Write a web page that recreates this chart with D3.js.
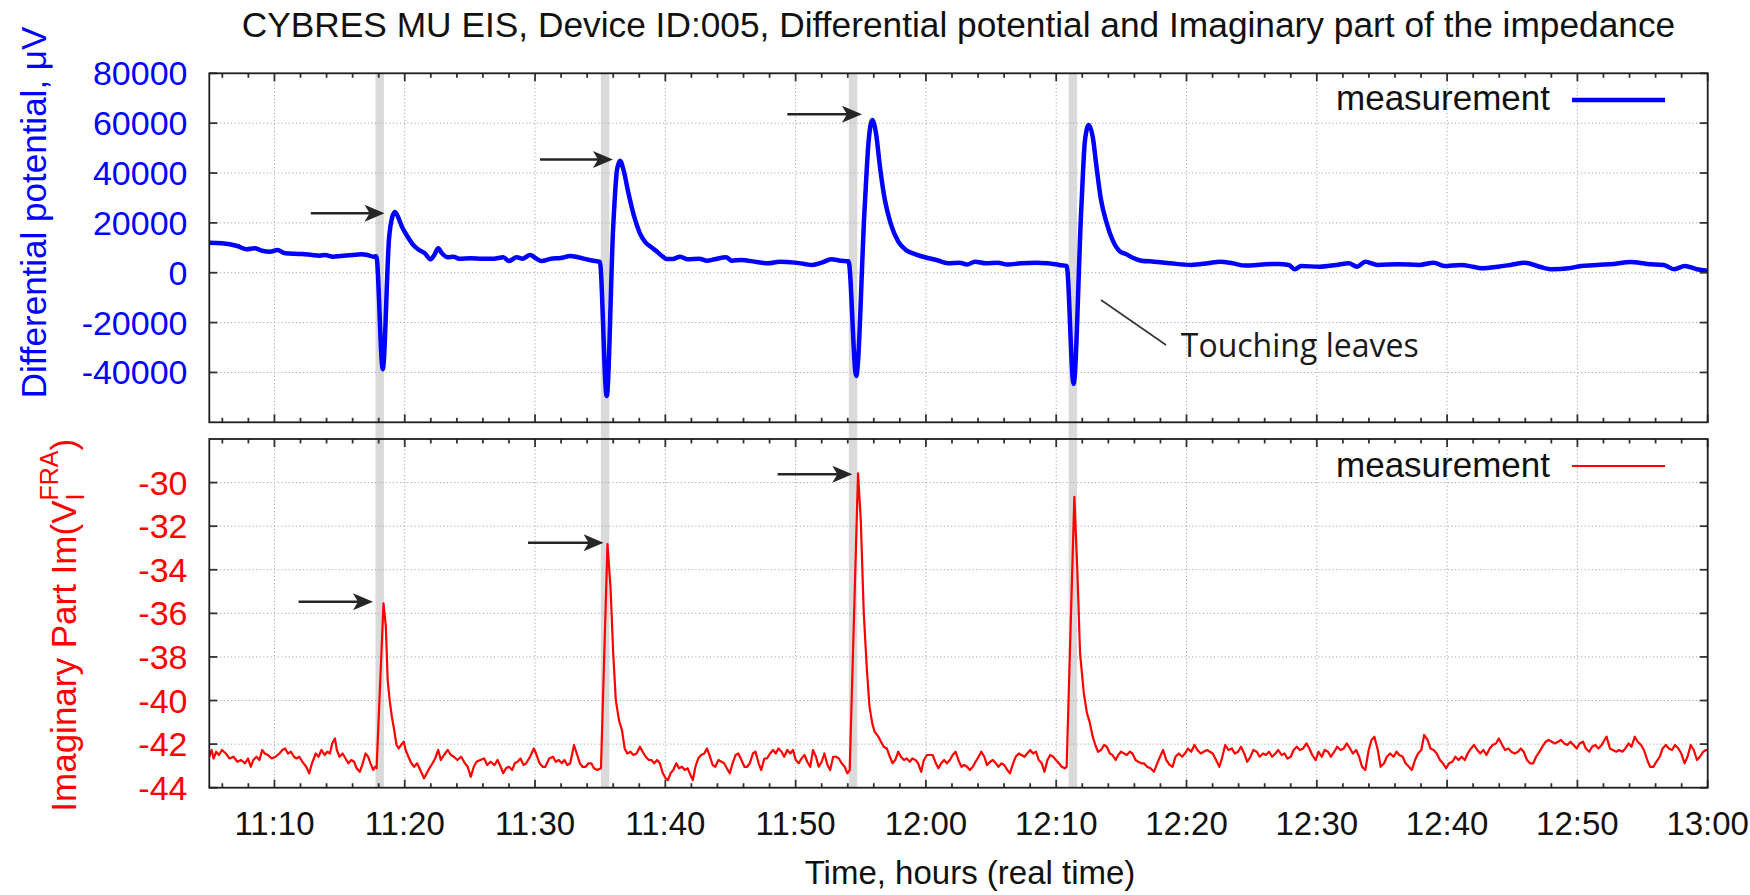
<!DOCTYPE html>
<html><head><meta charset="utf-8">
<script src="https://cdn.jsdelivr.net/npm/d3@7"></script>
<style>body{margin:0;background:#fff}svg{display:block}</style>
</head><body><svg id="chart" width="1750" height="895"></svg>
<script>
// ---------------- DATA ----------------
// time axis: minutes after 11:05
const axisStart = "11:05", axisEnd = "13:00";
const xTickLabels = ["11:10","11:20","11:30","11:40","11:50","12:00","12:10","12:20","12:30","12:40","12:50","13:00"];
const potentialTicks = [80000,60000,40000,20000,0,-20000,-40000];
const potentialDomain = [-60000, 80000];
const imagTicks = [-30,-32,-34,-36,-38,-40,-42,-44];
const imagDomain = [-44, -28];

// differential potential, µV : [minutes after 11:05, value]
const potentialSeries = [[0,12000],[0.97,11810],[2.15,10730],[2.88,9400],[3.47,9800],[4.06,8840],[4.65,8450],[5.23,9120],[5.82,7800],[7.14,7520],[7.88,7120],[8.46,6840],[8.9,7120],[9.49,6440],[10.08,6730],[10.96,7120],[11.69,7400],[12.13,7120],[12.58,6440],[12.82,6600],[13.31,-38730],[13.8,14000],[14.0,21500],[14.25,24370],[14.48,22480],[14.78,18470],[15.22,14460],[15.66,11130],[16.1,9120],[16.54,7800],[16.98,5400],[17.27,7120],[17.57,9800],[17.86,7800],[18.3,6200],[18.74,6440],[19.18,5640],[20.07,5800],[20.95,5640],[21.83,5640],[22.56,6200],[23,4700],[23.59,6200],[24.03,5640],[24.62,7120],[25.06,5800],[25.5,4700],[26.23,5640],[26.97,5900],[27.7,6730],[28.29,6200],[29.17,5120],[29.76,4590],[29.97,4440],[30.5,-49430],[31,18470],[31.29,41220],[31.52,44950],[31.79,41220],[32.17,31870],[32.61,22480],[33.05,15820],[33.49,12050],[33.93,10210],[34.37,8450],[34.81,6440],[35.11,5520],[35.55,5520],[36.14,6440],[36.72,5400],[37.6,5650],[38.19,4830],[38.78,5400],[39.66,6200],[40.1,4830],[40.84,5115],[42.01,4300],[42.89,3790],[43.77,4440],[44.95,4050],[45.68,3500],[46.27,3130],[47,4050],[47.74,5400],[48.47,4830],[49.06,4590],[49.65,-41420],[50.29,25170],[50.59,51920],[50.88,61270],[51.17,55930],[51.47,42540],[51.85,29180],[52.29,19830],[52.88,12450],[53.46,9120],[54.2,7400],[54.93,6200],[55.81,5115],[56.69,3790],[57.58,4050],[58.16,3260],[58.75,4440],[59.63,3790],[60.51,4050],[61.25,3260],[62.28,3790],[63.45,4050],[64.33,3790],[65.21,3130],[65.8,2700],[66.33,-44620],[66.92,25170],[67.21,53250],[67.5,59260],[67.8,54580],[68.09,42540],[68.44,29180],[68.88,19830],[69.32,13140],[69.91,8450],[70.35,7520],[70.79,6200],[71.53,4830],[72.5,4440],[73.77,3790],[75.36,3130],[76.63,3790],[77.59,4440],[78.54,3790],[79.5,2850],[81.09,3400],[82.04,3500],[82.84,3130],[83.32,1400],[83.79,2700],[85.22,2400],[86.5,3130],[87.45,3790],[88.09,2400],[88.72,4440],[89.68,3130],[91.27,3400],[92.86,3130],[93.98,4050],[94.77,2700],[96.04,3130],[97,2400],[97.63,1800],[98.91,2400],[99.86,3130],[100.97,4050],[102.09,2400],[103.04,1400],[104.32,1800],[105.27,2700],[106.54,3130],[107.82,3500],[109.09,4300],[110.36,3500],[111.63,3130],[112.43,1400],[113.23,2700],[114.18,1400],[115,820]];

// imaginary part : [minutes after 11:05, value]
const imagSeries = [[0,-42.58],[0.18,-42.27],[0.33,-42.66],[0.53,-42.35],[0.74,-42.5],[0.97,-42.27],[1.27,-42.43],[1.56,-42.66],[1.86,-42.58],[2.15,-42.81],[2.44,-42.73],[2.74,-42.88],[2.97,-42.66],[3.18,-43.04],[3.38,-42.73],[3.62,-42.58],[3.85,-42.73],[4.06,-42.27],[4.26,-42.43],[4.5,-42.5],[4.79,-42.66],[5.09,-42.58],[5.38,-42.43],[5.61,-42.27],[5.82,-42.2],[6.03,-42.43],[6.26,-42.35],[6.5,-42.58],[6.7,-42.66],[6.91,-42.58],[7.14,-42.81],[7.44,-43.04],[7.67,-43.34],[7.88,-42.88],[8.17,-42.43],[8.38,-42.58],[8.61,-42.27],[8.85,-42.5],[9.05,-42.35],[9.26,-42.43],[9.43,-41.97],[9.64,-41.74],[9.79,-42.27],[9.99,-42.58],[10.23,-42.43],[10.46,-42.66],[10.67,-42.88],[10.9,-42.73],[11.11,-42.81],[11.31,-43.11],[11.55,-43.27],[11.78,-42.88],[11.99,-42.43],[12.19,-42.58],[12.37,-42.88],[12.58,-43.19],[12.72,-43.04],[12.84,-43.11],[13.37,-35.54],[13.55,-36.61],[13.69,-39.06],[13.84,-39.98],[14.01,-40.74],[14.19,-41.35],[14.37,-42.04],[14.54,-42.2],[14.72,-42.04],[14.93,-41.89],[15.07,-42.27],[15.28,-42.58],[15.51,-42.88],[15.72,-43.04],[15.95,-42.88],[16.19,-43.19],[16.48,-43.57],[16.69,-43.34],[16.89,-43.11],[17.13,-42.88],[17.33,-42.66],[17.57,-42.27],[17.77,-42.73],[18.01,-42.5],[18.3,-42.27],[18.54,-42.5],[18.77,-42.58],[19.04,-42.73],[19.33,-42.58],[19.62,-42.88],[19.83,-43.04],[20.07,-43.5],[20.3,-43.04],[20.51,-42.81],[20.8,-42.73],[21.09,-42.66],[21.33,-42.96],[21.59,-42.81],[21.89,-42.96],[22.12,-42.73],[22.36,-43.04],[22.56,-43.34],[22.77,-43.11],[23,-43.04],[23.24,-43.19],[23.44,-42.88],[23.65,-42.81],[23.88,-42.66],[24.12,-42.96],[24.32,-42.88],[24.62,-42.58],[24.91,-42.2],[25.12,-42.5],[25.35,-42.88],[25.59,-43.04],[25.79,-43.04],[26.09,-42.66],[26.38,-42.58],[26.59,-42.81],[26.82,-42.73],[27.06,-42.88],[27.26,-42.73],[27.47,-42.96],[27.7,-42.88],[27.99,-42.04],[28.2,-42.43],[28.44,-42.88],[28.64,-43.04],[28.88,-43.04],[29.11,-42.88],[29.32,-42.88],[29.52,-43.11],[29.76,-43.19],[30.06,-43.11],[30.56,-32.82],[30.79,-34.78],[31,-37.84],[31.2,-39.98],[31.44,-40.9],[31.67,-41.35],[31.88,-42.2],[32.08,-42.43],[32.32,-42.35],[32.55,-42.5],[32.79,-42.43],[33.05,-42.12],[33.26,-42.35],[33.49,-42.58],[33.73,-42.73],[33.93,-42.73],[34.14,-42.88],[34.37,-42.73],[34.58,-42.88],[34.81,-43.34],[35.02,-43.57],[35.2,-43.65],[35.4,-43.34],[35.61,-43.19],[35.84,-42.88],[36.05,-43.11],[36.28,-43.04],[36.49,-43.19],[36.72,-43.11],[36.93,-43.42],[37.11,-43.65],[37.31,-43.04],[37.52,-42.66],[37.75,-42.5],[37.99,-42.43],[38.19,-42.2],[38.43,-42.58],[38.63,-42.96],[38.84,-43.04],[39.07,-42.73],[39.31,-42.81],[39.51,-42.88],[39.72,-43.11],[39.95,-43.34],[40.16,-42.88],[40.39,-42.5],[40.6,-42.43],[40.84,-42.73],[41.07,-43.04],[41.28,-43.04],[41.48,-42.88],[41.72,-42.43],[41.92,-42.35],[42.16,-42.88],[42.36,-43.19],[42.6,-42.66],[42.8,-42.66],[43.04,-42.43],[43.27,-42.27],[43.48,-42.43],[43.68,-42.2],[43.92,-42.35],[44.12,-42.58],[44.36,-42.27],[44.59,-42.43],[44.8,-42.27],[45.01,-42.73],[45.24,-42.88],[45.45,-42.66],[45.68,-42.5],[45.89,-42.81],[46.12,-43.04],[46.33,-42.27],[46.56,-42.58],[46.77,-43.04],[47,-42.81],[47.21,-42.43],[47.44,-42.96],[47.65,-43.19],[47.88,-42.58],[48.09,-42.58],[48.32,-42.66],[48.53,-42.88],[48.76,-43.04],[48.97,-43.34],[49.15,-43.19],[49.79,-29.58],[50,-31.72],[50.23,-36],[50.47,-38.6],[50.67,-40.28],[50.88,-41.05],[51.06,-41.43],[51.35,-41.66],[51.55,-41.89],[51.76,-42.12],[52,-42.2],[52.23,-42.58],[52.44,-42.88],[52.64,-42.73],[52.88,-42.35],[53.08,-42.58],[53.32,-42.73],[53.52,-42.66],[53.76,-42.81],[53.96,-42.66],[54.2,-42.73],[54.4,-42.88],[54.64,-43.27],[54.84,-42.73],[55.08,-42.5],[55.28,-42.5],[55.52,-42.5],[55.76,-42.88],[55.96,-43.11],[56.17,-42.88],[56.4,-42.73],[56.61,-42.88],[56.84,-42.73],[57.05,-42.5],[57.28,-42.35],[57.49,-42.73],[57.72,-43.04],[57.93,-42.96],[58.16,-43.04],[58.37,-43.19],[58.6,-43.04],[58.81,-42.81],[59.04,-42.58],[59.25,-42.35],[59.48,-42.58],[59.69,-42.96],[59.93,-42.81],[60.13,-42.73],[60.37,-42.88],[60.57,-43.04],[60.81,-42.88],[61.01,-42.96],[61.25,-43.19],[61.45,-43.34],[61.69,-42.88],[61.89,-42.58],[62.13,-42.43],[62.33,-42.5],[62.57,-42.58],[62.77,-42.43],[63.01,-42.27],[63.22,-42.43],[63.45,-42.35],[63.66,-42.73],[63.89,-42.88],[64.1,-43.27],[64.33,-42.73],[64.54,-42.5],[64.77,-42.58],[64.98,-42.73],[65.21,-42.88],[65.42,-43.04],[65.65,-43.11],[65.8,-43.04],[66.39,-30.65],[66.62,-34.01],[66.83,-37.84],[67.12,-39.67],[67.36,-40.59],[67.56,-40.97],[67.8,-41.66],[68,-42.04],[68.21,-42.35],[68.44,-42.27],[68.68,-42.04],[68.88,-42.12],[69.12,-42.43],[69.32,-42.5],[69.56,-42.73],[69.76,-42.5],[69.97,-42.35],[70.21,-42.43],[70.41,-42.5],[70.65,-42.35],[70.85,-42.43],[71.09,-42.73],[71.29,-42.81],[71.53,-42.88],[71.73,-42.88],[71.97,-43.04],[72.24,-43.11],[72.5,-43.27],[72.75,-42.88],[72.97,-42.58],[73.2,-42.27],[73.45,-42.73],[73.71,-42.96],[73.93,-43.04],[74.15,-42.58],[74.41,-42.43],[74.66,-42.58],[74.88,-42.43],[75.11,-42.2],[75.36,-42.35],[75.61,-42.04],[75.84,-42.27],[76.09,-42.43],[76.32,-42.35],[76.57,-42.27],[76.79,-42.35],[77.01,-42.43],[77.27,-42.73],[77.52,-43.04],[77.75,-42.58],[77.97,-42.04],[78.22,-42.27],[78.48,-42.2],[78.7,-42.43],[78.96,-42.35],[79.18,-42.12],[79.43,-42.43],[79.66,-42.81],[79.91,-42.58],[80.13,-42.27],[80.39,-42.35],[80.61,-42.58],[80.87,-42.43],[81.09,-42.5],[81.34,-42.35],[81.57,-42.58],[81.82,-42.43],[82.04,-42.27],[82.3,-42.5],[82.52,-42.43],[82.74,-42.66],[83,-42.58],[83.22,-42.27],[83.47,-42.12],[83.7,-42.27],[83.95,-42.2],[84.21,-41.97],[84.43,-42.2],[84.65,-42.5],[84.91,-42.73],[85.13,-42.35],[85.38,-42.58],[85.61,-42.27],[85.86,-42.35],[86.08,-42.58],[86.34,-42.35],[86.56,-42.12],[86.82,-42.27],[87.07,-42.2],[87.29,-41.97],[87.55,-42.2],[87.77,-42.43],[88.02,-42.27],[88.25,-42.58],[88.47,-43.04],[88.72,-43.19],[88.98,-42.27],[89.2,-41.81],[89.42,-41.66],[89.68,-42.27],[89.9,-43.04],[90.16,-42.88],[90.38,-42.58],[90.63,-42.43],[90.89,-42.58],[91.11,-42.35],[91.33,-42.5],[91.59,-42.58],[91.81,-42.88],[92.07,-43.04],[92.29,-43.19],[92.54,-42.73],[92.77,-42.43],[93.02,-42.27],[93.24,-41.58],[93.5,-41.81],[93.72,-42.2],[93.97,-42.27],[94.2,-42.43],[94.45,-42.73],[94.68,-42.88],[94.93,-43.11],[95.15,-42.88],[95.41,-42.81],[95.63,-42.58],[95.88,-42.73],[96.11,-42.58],[96.36,-42.73],[96.58,-42.43],[96.84,-42.2],[97.06,-42.04],[97.32,-42.27],[97.54,-42.43],[97.79,-42.27],[98.02,-42.5],[98.27,-42.2],[98.49,-42.04],[98.75,-41.97],[98.97,-41.74],[99.23,-42.04],[99.45,-42.27],[99.7,-42.2],[99.93,-42.35],[100.18,-42.43],[100.44,-42.35],[100.66,-42.2],[100.88,-42.35],[101.13,-42.73],[101.36,-42.88],[101.61,-42.88],[101.83,-42.58],[102.09,-42.35],[102.31,-42.12],[102.57,-41.89],[102.79,-41.81],[103.04,-41.89],[103.27,-41.97],[103.52,-41.89],[103.74,-41.81],[104,-41.97],[104.22,-42.04],[104.47,-41.89],[104.7,-42.04],[104.95,-42.2],[105.17,-41.97],[105.43,-41.89],[105.65,-42.2],[105.91,-42.35],[106.13,-42.12],[106.38,-42.04],[106.61,-42.2],[106.86,-42.04],[107.08,-41.81],[107.24,-41.66],[107.5,-42.2],[107.72,-42.27],[107.98,-42.35],[108.2,-42.27],[108.45,-42.35],[108.68,-42.2],[108.93,-41.97],[109.15,-42.12],[109.41,-41.66],[109.63,-41.89],[109.88,-42.04],[110.11,-42.27],[110.36,-42.73],[110.58,-43.04],[110.84,-43.04],[111.06,-42.81],[111.32,-42.58],[111.54,-42.2],[111.79,-42.04],[112.02,-42.2],[112.27,-42.27],[112.49,-42.04],[112.75,-42.2],[112.97,-42.43],[113.23,-42.88],[113.45,-42.58],[113.7,-42.04],[113.93,-42.27],[114.18,-42.73],[114.4,-42.58],[114.66,-42.35],[114.88,-42.27],[115,-42.27]];

// annotations (data units)
const touchBands = [[12.75,13.4],[30.05,30.7],[49.08,49.73],[65.95,66.6]];      // minutes
const potentialArrows = [[7.79,13.45,23850],[25.38,30.98,45425],[44.36,50.09,63555]]; // t0,t1,value
const imagArrows = [[6.85,12.56,-35.47],[24.46,30.26,-32.76],[43.62,49.35,-29.62]];
const touchNoteLine = [[68.44,-10930],[73.43,-28980]];
const touchNoteText = [74.56,-33670,"Touching leaves"];

// ---------------- LAYOUT ----------------
const W=1750, H=895;
const L=209.3, R=1707.7;
const T1=73.3, B1=422.3, T2=439, B2=787.7;
const FONT="'Liberation Sans', Arial, sans-serif";
const BLUE="#0000ff", RED="#ff0000";

const base = d3.timeParse("%H:%M");
const t0 = base(axisStart), t1 = base(axisEnd);
const toDate = m => new Date(t0.getTime() + m*60000);

const x = d3.scaleTime().domain([t0,t1]).range([L,R]);
const y1 = d3.scaleLinear().domain(potentialDomain).range([B1,T1]);
const y2 = d3.scaleLinear().domain(imagDomain).range([B2,T2]);

const svg = d3.select("#chart");
svg.append("rect").attr("width",W).attr("height",H).attr("fill","#fff");

const defs = svg.append("defs");
defs.append("clipPath").attr("id","c1").append("rect").attr("x",L).attr("y",T1).attr("width",R-L).attr("height",B1-T1);
defs.append("clipPath").attr("id","c2").append("rect").attr("x",L).attr("y",T2).attr("width",R-L).attr("height",B2-T2);

const majorTicks = xTickLabels.map(s => base(s));
const minorTicks = d3.timeMinute.every(2).range(t0, new Date(t1.getTime()+1));

// grey bands marking touches
svg.append("g").selectAll("rect").data(touchBands).join("rect")
  .attr("x", d => x(toDate(d[0]))).attr("width", d => x(toDate(d[1]))-x(toDate(d[0])))
  .attr("y", T1).attr("height", B2-T1).attr("fill","#dadada");

function panel(yS, top, bot, ticks){
  const grid = svg.append("g").attr("stroke","#a8a8a8").attr("stroke-width",1).attr("stroke-dasharray","1.2,2.4");
  majorTicks.filter(d => x(d) > L+1 && x(d) < R-1).forEach(d=>{
    grid.append("line").attr("x1",x(d)).attr("x2",x(d)).attr("y1",top).attr("y2",bot);
  });
  ticks.filter(v => yS(v) > top+1 && yS(v) < bot-1).forEach(v=>{
    grid.append("line").attr("x1",L).attr("x2",R).attr("y1",yS(v)).attr("y2",yS(v));
  });
}
panel(y1, T1, B1, potentialTicks);
panel(y2, T2, B2, imagTicks);

// data lines
const line1 = d3.line().curve(d3.curveMonotoneX).x(d=>x(toDate(d[0]))).y(d=>y1(d[1]));
const line2 = d3.line().x(d=>x(toDate(d[0]))).y(d=>y2(d[1]));
svg.append("path").datum(potentialSeries).attr("clip-path","url(#c1)")
  .attr("d",line1).attr("fill","none").attr("stroke",BLUE).attr("stroke-width",4.5)
  .attr("stroke-linejoin","round").attr("stroke-linecap","round");
svg.append("path").datum(imagSeries).attr("clip-path","url(#c2)")
  .attr("d",line2).attr("fill","none").attr("stroke",RED).attr("stroke-width",2.2)
  .attr("stroke-linejoin","round");

// frames, ticks, labels
function frame(yS, top, bot, ticks, color){
  const g = svg.append("g");
  const tk = g.append("g").attr("stroke","#333").attr("stroke-width",1.8);
  minorTicks.forEach(d=>{
    const isMajor = majorTicks.some(m => m.getTime()===d.getTime());
    const len = isMajor ? 8 : 4.5;
    tk.append("line").attr("x1",x(d)).attr("x2",x(d)).attr("y1",bot).attr("y2",bot-len);
    tk.append("line").attr("x1",x(d)).attr("x2",x(d)).attr("y1",top).attr("y2",top+len);
  });
  ticks.forEach(v=>{
    tk.append("line").attr("x1",L).attr("x2",L+8).attr("y1",yS(v)).attr("y2",yS(v));
    tk.append("line").attr("x1",R).attr("x2",R-8).attr("y1",yS(v)).attr("y2",yS(v));
  });
  g.append("rect").attr("x",L).attr("y",top).attr("width",R-L).attr("height",bot-top)
    .attr("fill","none").attr("stroke","#1e1e1e").attr("stroke-width",1.8);
  g.append("g").selectAll("text").data(ticks).join("text")
    .attr("x",187.5).attr("y",v=>yS(v)+12).attr("text-anchor","end")
    .attr("font-family",FONT).attr("font-size",34).attr("fill",color).text(v=>String(v));
}
frame(y1, T1, B1, potentialTicks, BLUE);
frame(y2, T2, B2, imagTicks, RED);

// x tick labels
svg.append("g").selectAll("text").data(xTickLabels).join("text")
  .attr("x", s => x(base(s))).attr("y", 835).attr("text-anchor","middle")
  .attr("font-family",FONT).attr("font-size",33).attr("fill","#111").text(s=>s);

// titles
svg.append("text").attr("x",(L+R)/2).attr("y",37).attr("text-anchor","middle")
  .attr("font-family",FONT).attr("font-size",35.3).attr("fill","#111")
  .text("CYBRES MU EIS, Device ID:005, Differential potential and Imaginary part of the impedance");
svg.append("text").attr("x",970).attr("y",884).attr("text-anchor","middle")
  .attr("font-family",FONT).attr("font-size",33).attr("fill","#111")
  .text("Time, hours (real time)");
svg.append("text").attr("transform","translate(46,212.5) rotate(-90)").attr("text-anchor","middle")
  .attr("font-family",FONT).attr("font-size",35).attr("fill",BLUE)
  .text("Differential potential, μV");
const yl2 = svg.append("text").attr("transform","translate(75.5,811.7) rotate(-90)").attr("text-anchor","start")
  .attr("font-family",FONT).attr("font-size",35).attr("fill",RED);
yl2.append("tspan").text("Imaginary Part Im(V");
yl2.append("tspan").attr("font-size",25).attr("dy",8).text("I");
yl2.append("tspan").attr("font-size",25).attr("dx",-7).attr("dy",-26).text("FRA");
yl2.append("tspan").attr("dy",18).text(")");

// legends
svg.append("text").attr("x",1550).attr("y",110).attr("text-anchor","end")
  .attr("font-family",FONT).attr("font-size",35).attr("fill","#111").text("measurement");
svg.append("line").attr("x1",1572).attr("x2",1665).attr("y1",100).attr("y2",100)
  .attr("stroke",BLUE).attr("stroke-width",4.5);
svg.append("text").attr("x",1550).attr("y",477).attr("text-anchor","end")
  .attr("font-family",FONT).attr("font-size",35).attr("fill","#111").text("measurement");
svg.append("line").attr("x1",1572).attr("x2",1665).attr("y1",466).attr("y2",466)
  .attr("stroke",RED).attr("stroke-width",2.2);

// arrows
function arrows(list, yS){
  const g = svg.append("g").attr("fill","#262626").attr("stroke","#262626");
  list.forEach(a=>{
    const xa = x(toDate(a[0])), xb = x(toDate(a[1])), yy = yS(a[2]);
    g.append("line").attr("x1",xa).attr("x2",xb-14).attr("y1",yy).attr("y2",yy).attr("stroke-width",2.6);
    g.append("path").attr("stroke","none")
      .attr("d",`M${xb},${yy} L${xb-20},${yy-8.5} L${xb-15},${yy} L${xb-20},${yy+8.5} Z`);
  });
}
arrows(potentialArrows, y1);
arrows(imagArrows, y2);

// touching leaves note
svg.append("line")
  .attr("x1",x(toDate(touchNoteLine[0][0]))).attr("y1",y1(touchNoteLine[0][1]))
  .attr("x2",x(toDate(touchNoteLine[1][0]))).attr("y2",y1(touchNoteLine[1][1]))
  .attr("stroke","#333").attr("stroke-width",1.6);
svg.append("text").attr("x",x(toDate(touchNoteText[0]))).attr("y",y1(touchNoteText[1]))
  .attr("font-family","'Open Sans', 'Noto Sans', sans-serif").attr("font-size",32).attr("fill","#1a1a1a")
  .text(touchNoteText[2]);
</script></body></html>
